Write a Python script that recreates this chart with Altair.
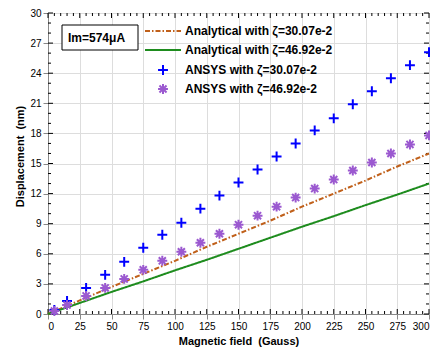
import altair as alt
import pandas as pd

# ---- data ----
series_names = ["Analytical with ζ=30.07e-2", "Analytical with ζ=46.92e-2",
                "ANSYS with ζ=30.07e-2", "ANSYS with ζ=46.92e-2"]

line_field = [0, 25, 50, 75, 100, 125, 150, 175, 200, 225, 250, 275, 300]
analytical_30 = [0, 1.35, 2.7, 4.0, 5.3, 6.7, 8.0, 9.3, 10.7, 12.0, 13.3, 14.7, 16.0]
analytical_47 = [0, 1.1, 2.2, 3.25, 4.35, 5.4, 6.5, 7.6, 8.7, 9.75, 10.85, 11.9, 13.0]

ansys_field = [5, 15, 30, 45, 60, 75, 90, 105, 120, 135, 150, 165, 180, 195, 210,
               225, 240, 255, 270, 285, 300]
ansys_30 = [0.4, 1.3, 2.6, 3.9, 5.2, 6.6, 7.9, 9.1, 10.5, 11.8, 13.1, 14.4, 15.7,
            17.0, 18.3, 19.5, 20.9, 22.2, 23.5, 24.8, 26.1]
ansys_47 = [0.3, 0.9, 1.8, 2.6, 3.5, 4.4, 5.3, 6.2, 7.1, 8.0, 8.9, 9.8, 10.7, 11.6,
            12.5, 13.4, 14.3, 15.1, 16.0, 16.9, 17.8]

x_major = list(range(0, 301, 25))
x_minor = [v for v in range(0, 301, 5) if v % 25 != 0]
y_major = list(range(0, 31, 3))
y_minor = [v for v in range(0, 31) if v % 3 != 0]

note_text = ["Im=574μA"]
x_title = "Magnetic field\u00a0 (Gauss)"
y_title = "Displacement\u00a0 (nm)"

colors = ["#c0601a", "#1e8c1e", "#0000ff", "#9b59d0"]
plus_path = "M-0.7,0L0.7,0M0,-0.7L0,0.7"
star_path = "M-0.7,0L0.7,0M0,-0.7L0,0.7M-0.5,-0.5L0.5,0.5M-0.5,0.5L0.5,-0.5"

W, H = 381, 301
FONT = "Liberation Sans"

lines_df = pd.concat([
    pd.DataFrame({"B": line_field, "D": analytical_30, "series": series_names[0]}),
    pd.DataFrame({"B": line_field, "D": analytical_47, "series": series_names[1]}),
])
pts_df = pd.concat([
    pd.DataFrame({"B": ansys_field, "D": ansys_30, "series": series_names[2]}),
    pd.DataFrame({"B": ansys_field, "D": ansys_47, "series": series_names[3]}),
])

xscale = alt.Scale(domain=[0, 300], nice=False, zero=False)
yscale = alt.Scale(domain=[0, 30], nice=False, zero=False)

color_scale = alt.Scale(domain=series_names, range=colors)
shape_scale = alt.Scale(domain=series_names, range=[plus_path, plus_path, plus_path, star_path])
dash_scale = alt.Scale(domain=series_names, range=[[5, 2, 1.5, 2], [1, 0], [1, 0], [1, 0]])

xaxis = alt.Axis(values=x_major, title=x_title, format="d", labelOverlap=False)
yaxis = alt.Axis(values=y_major, title=y_title, format="d", labelOverlap=False, titleY=143)

def X(field):
    return alt.X(field, scale=xscale, axis=xaxis)

def Y(field):
    return alt.Y(field, scale=yscale, axis=yaxis)

lines = alt.Chart(lines_df).mark_line(strokeWidth=2).encode(
    x=X("B:Q"), y=Y("D:Q"),
    color=alt.Color("series:N", scale=color_scale, legend=None),
    strokeDash=alt.StrokeDash("series:N", scale=dash_scale, legend=None),
)

points = alt.Chart(pts_df).mark_point(filled=False, size=200, strokeWidth=2, opacity=1).encode(
    x=X("B:Q"), y=Y("D:Q"),
    color=alt.Color("series:N", scale=color_scale, legend=None),
    shape=alt.Shape("series:N", scale=shape_scale, legend=None),
)

def xticks(vals, length):
    df = pd.DataFrame({"v": vals})
    bottom = alt.Chart(df).mark_rule(color="black", strokeWidth=1).encode(
        x=X("v:Q"), y=alt.value(H), y2=alt.value(H - length))
    top = alt.Chart(df).mark_rule(color="black", strokeWidth=1).encode(
        x=X("v:Q"), y=alt.value(0), y2=alt.value(length))
    return [bottom, top]

def yticks(vals, length):
    df = pd.DataFrame({"v": vals})
    left = alt.Chart(df).mark_rule(color="black", strokeWidth=1).encode(
        y=Y("v:Q"), x=alt.value(0), x2=alt.value(length))
    right = alt.Chart(df).mark_rule(color="black", strokeWidth=1).encode(
        y=Y("v:Q"), x=alt.value(W), x2=alt.value(W - length))
    return [left, right]

ticks = xticks(x_major, 5) + xticks(x_minor, 3) + yticks(y_major, 5) + yticks(y_minor, 3)

# ---- legend (drawn in the plot, top) ----
LEG_ROWS = [18, 37, 57, 76]
LEG_SYM_X, LEG_LINE_X1, LEG_LINE_X2, LEG_TEXT_X = 115, 97, 133, 137
legend_layers = []
for i, name in enumerate(series_names):
    ldf = pd.DataFrame({"series": [name]})
    if i < 2:
        sym = alt.Chart(ldf).mark_rule(strokeWidth=2).encode(
            x=alt.value(LEG_LINE_X1), x2=alt.value(LEG_LINE_X2), y=alt.value(LEG_ROWS[i]),
            color=alt.Color("series:N", scale=color_scale, legend=None),
            strokeDash=alt.StrokeDash("series:N", scale=dash_scale, legend=None))
    else:
        sym = alt.Chart(ldf).mark_point(filled=False, size=200, strokeWidth=2, opacity=1).encode(
            x=alt.value(LEG_SYM_X), y=alt.value(LEG_ROWS[i]),
            color=alt.Color("series:N", scale=color_scale, legend=None),
            shape=alt.Shape("series:N", scale=shape_scale, legend=None))
    txt = alt.Chart(ldf).mark_text(align="left", baseline="middle", font=FONT, fontSize=12,
                                   fontWeight="bold", color="black").encode(
        x=alt.value(LEG_TEXT_X), y=alt.value(LEG_ROWS[i]), text="series:N")
    legend_layers += [sym, txt]

note_df = pd.DataFrame({"t": note_text})
note_box = alt.Chart(note_df).mark_rect(fill="white", stroke="black", strokeWidth=1).encode(
    x=alt.value(14), x2=alt.value(90), y=alt.value(12), y2=alt.value(37))
note = alt.Chart(note_df).mark_text(align="left", baseline="middle", font=FONT,
                                    fontSize=12, fontWeight="bold", color="black").encode(
    x=alt.value(20), y=alt.value(25), text="t:N")

chart = alt.layer(*ticks, lines, points, note_box, note, *legend_layers).properties(
    width=W, height=H,
    autosize=alt.AutoSizeParams(type="none"),
    padding={"left": 40, "top": 5, "right": 1, "bottom": 40},
).configure_view(stroke="black", strokeWidth=1).configure_axis(
    ticks=False, tickSize=0, grid=False, domainColor="black", domainWidth=1,
    labelFont=FONT, labelFontSize=12, labelFontWeight="bold", labelColor="black",
    labelPadding=2, titleFont=FONT, titleFontSize=12, titleFontWeight="bold",
    titleColor="black", titlePadding=4,
).configure(background="white")

chart.save("out.html", embed_options={"renderer": "svg", "actions": False})
